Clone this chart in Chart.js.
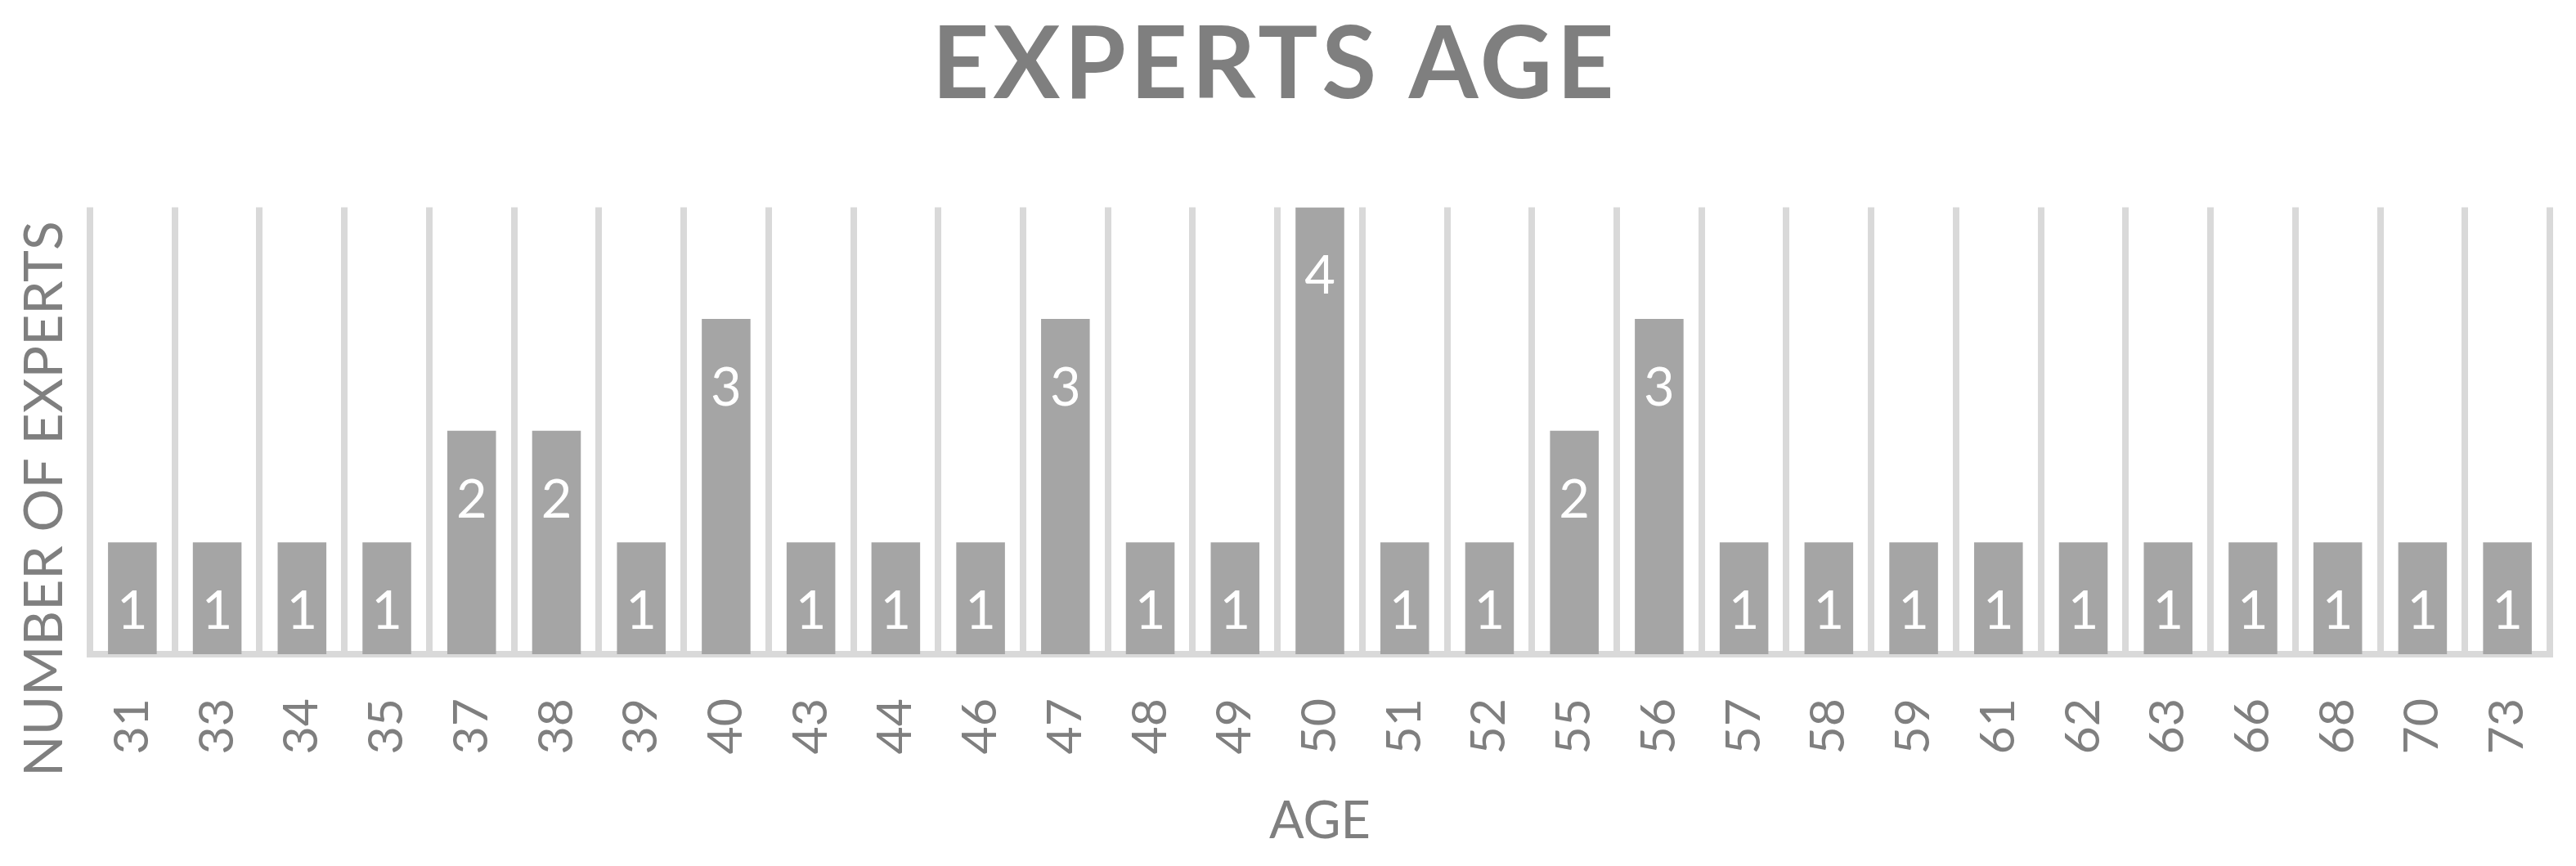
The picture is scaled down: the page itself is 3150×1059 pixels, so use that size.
<!DOCTYPE html>
<html><head><meta charset="utf-8">
<script src="https://cdn.jsdelivr.net/npm/chart.js@4/dist/chart.umd.min.js"></script>
<style>html,body{margin:0;padding:0;background:#fff;overflow:hidden}</style>
</head><body>
<canvas id="c" width="3150" height="1059"></canvas>
<script>
const chartTitle = 'EXPERTS AGE';
const xAxisTitle = 'AGE';
const yAxisTitle = 'NUMBER OF EXPERTS';
const ages = ['31','33','34','35','37','38','39','40','43','44','46','47','48','49','50','51','52','55','56','57','58','59','61','62','63','66','68','70','73'];
const experts = [1,1,1,1,2,2,1,3,1,1,1,3,1,1,4,1,1,2,3,1,1,1,1,1,1,1,1,1,1];
const yMin = 0, yMax = 4;

const GRAY_TEXT = '#7f7f7f';
const GRID = '#d9d9d9';
const BAR = '#a5a5a5';

const titleSpacing = {
  id: 'titleSpacing',
  afterInit(chart) {
    const tb = chart.titleBlock;
    if (!tb) return;
    const orig = tb.draw.bind(tb);
    tb.draw = function () {
      const ctx = this.ctx;
      ctx.save();
      ctx.letterSpacing = '5px';
      orig();
      ctx.restore();
    };
  }
};

const barLabels = {
  id: 'barLabels',
  afterDraw(chart) {
    const ctx = chart.ctx;
    const meta = chart.getDatasetMeta(0);
    ctx.save();
    ctx.font = '65px Lato';
    ctx.fillStyle = '#ffffff';
    ctx.textAlign = 'center';
    ctx.textBaseline = 'middle';
    meta.data.forEach((bar, i) => {
      ctx.fillText(String(experts[i]), bar.x, bar.y + 85);
    });
    ctx.restore();
  }
};

const yTitle = {
  id: 'yTitle',
  afterDraw(chart) {
    const ctx = chart.ctx;
    const a = chart.chartArea;
    ctx.save();
    ctx.translate(a.left - 55, a.bottom - 190);
    ctx.rotate(-Math.PI / 2);
    ctx.font = '66px Lato';
    ctx.fillStyle = GRAY_TEXT;
    ctx.textAlign = 'center';
    ctx.textBaseline = 'middle';
    ctx.fillText(yAxisTitle, 0, 0);
    ctx.restore();
  }
};

new Chart(document.getElementById('c'), {
  type: 'bar',
  data: {
    labels: ages,
    datasets: [{
      data: experts,
      backgroundColor: BAR,
      borderWidth: 0,
      barPercentage: 0.574,
      categoryPercentage: 1.0
    }]
  },
  options: {
    responsive: false,
    animation: false,
    devicePixelRatio: 1,
    layout: { padding: { left: 0, right: 32, top: 0, bottom: 0 } },
    plugins: {
      legend: { display: false },
      tooltip: { enabled: false },
      title: {
        display: true,
        text: chartTitle,
        color: GRAY_TEXT,
        font: { family: 'Lato', size: 122, weight: 'bold', lineHeight: 1.2 },
        padding: { top: 7, bottom: 100 }
      }
    },
    scales: {
      x: {
        z: 1,
        grid: { display: true, color: GRID, lineWidth: 8, drawTicks: false, offset: true },
        border: { display: true, color: GRID, width: 8 },
        ticks: {
          color: GRAY_TEXT,
          font: { family: 'Lato', size: 59 },
          minRotation: 90, maxRotation: 90,
          autoSkip: false,
          padding: 54
        },
        title: {
          display: true,
          text: xAxisTitle,
          color: GRAY_TEXT,
          font: { family: 'Lato', size: 63, lineHeight: 1.2 },
          padding: { top: 0, bottom: 17 }
        },
        afterFit(scale) {
          scale.height = 259;
          scale.paddingLeft = 0;
          scale.paddingRight = 0;
        }
      },
      y: {
        min: yMin, max: yMax,
        grid: { display: false },
        border: { display: false },
        ticks: { display: false },
        afterFit(scale) { scale.width = 110; }
      }
    }
  },
  plugins: [titleSpacing, barLabels, yTitle]
});
</script>
</body></html>
